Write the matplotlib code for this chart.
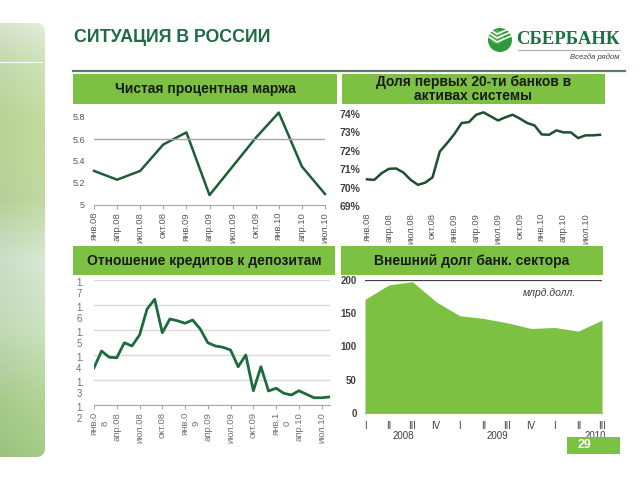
import matplotlib
matplotlib.use("Agg")
import matplotlib.pyplot as plt
import numpy as np
from matplotlib.patches import FancyBboxPatch, Rectangle, Circle
from matplotlib.transforms import ScaledTranslation, blended_transform_factory
from matplotlib.colors import to_rgb

plt.rcParams["font.family"] = ["Liberation Sans", "DejaVu Sans"]

W, H = 640, 480
GREEN = "#7cc142"
DARK_LINE = "#1d5e38"
GREY = "#595959"

# --- data ---------------------------------------------------------------
margin_labels = ["янв.08", "апр.08", "июл.08", "окт.08", "янв.09", "апр.09",
                 "июл.09", "окт.09", "янв.10", "апр.10", "июл.10"]
margin_values = [5.31, 5.23, 5.31, 5.55, 5.66, 5.09, 5.35, 5.61, 5.84, 5.35, 5.10]
margin_ticks = [5, 5.2, 5.4, 5.6, 5.8]
margin_tick_labels = ["5", "5.2", "5.4", "5.6", "5.8"]

top20_labels = ["янв.08", "апр.08", "июл.08", "окт.08", "янв.09", "апр.09",
                "июл.09", "окт.09", "янв.10", "апр.10", "июл.10"]
top20_values = [70.45, 70.42, 70.78, 71.02, 71.04, 70.82, 70.42, 70.15, 70.27,
                70.56, 71.96, 72.42, 72.91, 73.51, 73.56, 73.96, 74.09, 73.87,
                73.65, 73.82, 73.96, 73.75, 73.51, 73.38, 72.89, 72.87, 73.11,
                73.00, 73.00, 72.69, 72.84, 72.84, 72.87]
top20_ticks = [69, 70, 71, 72, 73, 74]

ltd_labels = ["янв.0\n8", "апр.08", "июл.08", "окт.08", "янв.0\n9", "апр.09",
              "июл.09", "окт.09", "янв.1\n0", "апр.10", "июл.10"]
ltd_values = [1.349, 1.416, 1.391, 1.389, 1.449, 1.436, 1.480, 1.584, 1.623,
              1.489, 1.544, 1.537, 1.527, 1.540, 1.504, 1.449, 1.436, 1.431,
              1.420, 1.353, 1.400, 1.257, 1.353, 1.256, 1.267, 1.247, 1.240,
              1.257, 1.243, 1.229, 1.229, 1.232]
ltd_ticks = [1.2, 1.3, 1.4, 1.5, 1.6, 1.7]
ltd_tick_labels = ["1.\n2", "1.\n3", "1.\n4", "1.\n5", "1.\n6", "1.\n7"]

debt_quarters = ["I", "II", "III", "IV", "I", "II", "III", "IV", "I", "II", "III"]
debt_years = ["2008", "2009", "2010"]
debt_year_pos = [1.6, 5.6, 9.7]
debt_values = [170.9, 192.5, 197.5, 167.3, 146.2, 142.2, 135.7, 127.1, 128.6, 123.1, 139.7]
debt_ticks = [0, 50, 100, 150, 200]


def rect(x0, y0, x1, y1):
    return [x0 / W, 1 - y1 / H, (x1 - x0) / W, (y1 - y0) / H]


fig = plt.figure(figsize=(6.4, 4.8), dpi=100)
fig.patch.set_facecolor("white")

# --- background layer ---------------------------------------------------
bg = fig.add_axes([0, 0, 1, 1], zorder=-1)
bg.set_xlim(0, W)
bg.set_ylim(H, 0)
bg.axis("off")

# decorative strip on the left
stops_y = [23, 60, 120, 200, 260, 330, 400, 457]
stops_c = ["#dfe9d3", "#cadfb4", "#bfd899", "#bcd69e", "#d3e4cf", "#c7debb",
           "#aed091", "#9fc883"]
ys = np.arange(23, 458)
cols = np.array([to_rgb(c) for c in stops_c])
grad = np.stack([np.interp(ys, stops_y, cols[:, k]) for k in range(3)], axis=-1)
xs = np.linspace(0, 1, 46)
img = grad[:, None, :] * (0.97 + 0.05 * xs[None, :, None])
img = np.clip(img, 0, 1)
strip = FancyBboxPatch((-12, 23), 57, 434, boxstyle="round,pad=0,rounding_size=9",
                       fc="none", ec="none")
bg.add_patch(strip)
im = bg.imshow(img, extent=(0, 45, 457, 23), aspect="auto", zorder=1)
im.set_clip_path(strip)
bg.plot([0, 42], [62, 62], color="white", lw=0.8, alpha=0.9, zorder=2)

# title and logo
bg.text(74, 37, "СИТУАЦИЯ В РОССИИ", fontsize=12.8, fontweight="bold",
        color="#1e6b45", va="center", ha="left")
bg.plot([73, 625], [71, 71], color="#5d7d6c", lw=1.6)

bg.add_patch(Circle((500, 40), 12, fc="#2f9a3c", ec="none", zorder=3))
bg.add_patch(Circle((497, 37), 7, fc="#5cbc4a", ec="none", zorder=3, alpha=0.7))
for dy in (0, 4, 8):
    bg.plot([489, 497, 511], [29 + dy, 34 + dy, 28 + dy], color="white",
            lw=1.2, zorder=4, solid_capstyle="round")
bg.text(516, 40, "СБЕРБАНК", fontsize=13.5, fontweight="bold",
        family="Liberation Serif", color="#1a7340", va="center", ha="left")
bg.plot([518, 620], [50, 50], color="#9fb5a6", lw=0.8)
bg.text(620, 57, "Всегда рядом", fontsize=5.5, style="italic", color="#404040",
        va="center", ha="right")

# header boxes
headers = [
    ((73, 74, 337, 104), "Чистая процентная маржа"),
    ((342, 74, 605, 104), "Доля первых 20-ти банков в\nактивах системы"),
    ((73, 246, 335, 275), "Отношение кредитов к депозитам"),
    ((341, 246, 603, 275), "Внешний долг банк. сектора"),
]
for (x0, y0, x1, y1), label in headers:
    bg.add_patch(Rectangle((x0, y0), x1 - x0, y1 - y0, fc=GREEN, ec="none"))
    bg.text((x0 + x1) / 2, (y0 + y1) / 2, label, fontsize=10, fontweight="bold",
            color="#1a1a1a", ha="center", va="center", linespacing=1.0)

bg.text(523, 293, "млрд.долл.", fontsize=7.5, style="italic", color="#404040",
        va="center", ha="left")

# --- chart 1: net interest margin ---------------------------------------
ax1 = fig.add_axes(rect(94, 117, 325, 205))
ax1.set_facecolor("none")
ax1.plot(range(len(margin_values)), margin_values, color=DARK_LINE, lw=1.8,
         clip_on=False)
ax1.axhline(5.6, color="#a6a6a6", lw=1)
ax1.set_xlim(0, len(margin_values) - 1)
ax1.set_ylim(5, 5.8)
ax1.set_xticks(range(len(margin_labels)), margin_labels, rotation=90)
ax1.set_yticks(margin_ticks, margin_tick_labels)
ax1.tick_params(axis="x", labelsize=6.8, colors=GREY, length=3, pad=2, color="#a6a6a6")
ax1.tick_params(axis="y", labelsize=6.5, colors=GREY, length=0, pad=6.5)
for s in ("top", "right", "left"):
    ax1.spines[s].set_visible(False)
ax1.spines["bottom"].set_color("#a6a6a6")

# --- chart 2: share of top-20 banks -------------------------------------
ax2 = fig.add_axes(rect(367, 114, 600, 206))
ax2.set_facecolor("none")
ax2.plot(range(len(top20_values)), top20_values, color="#1f4f30", lw=1.8,
         clip_on=False)
ax2.set_xlim(0, len(top20_values) - 1)
ax2.set_ylim(69, 74)
ax2.set_xticks(range(0, 3 * len(top20_labels), 3), top20_labels, rotation=90)
ax2.set_yticks(top20_ticks, [f"{v}%" for v in top20_ticks])
ax2.tick_params(axis="x", labelsize=6.8, colors=GREY, length=0, pad=5)
ax2.tick_params(axis="y", labelsize=7.5, colors="#404040", length=0, pad=5)
for lbl in ax2.get_yticklabels():
    lbl.set_fontweight("bold")
for s in ax2.spines.values():
    s.set_visible(False)

# --- chart 3: loans to deposits -----------------------------------------
ax3 = fig.add_axes(rect(94, 280, 330, 405))
ax3.set_facecolor("none")
ax3.plot(range(len(ltd_values)), ltd_values, color="#1b6b3e", lw=2)
ax3.set_xlim(0, len(ltd_values) - 0.9)
ax3.set_ylim(1.2, 1.7)
ax3.set_yticks(ltd_ticks, ltd_tick_labels)
ax3.set_xticks(range(0, 3 * len(ltd_labels), 3), ltd_labels, rotation=90)
ax3.grid(axis="y", color="#d9d9d9", lw=1)
ax3.set_axisbelow(True)
ax3.tick_params(axis="y", labelsize=7, colors="#707070", length=0, pad=7)
ax3.tick_params(axis="x", labelsize=6.8, colors="#707070", length=3, pad=2,
                color="#a6a6a6")
down = ScaledTranslation(0, -5 / 72, fig.dpi_scale_trans)
for lbl in ax3.get_yticklabels():
    lbl.set_transform(lbl.get_transform() + down)
    lbl.set_linespacing(1.1)
    lbl.set_multialignment("left")
shift = ScaledTranslation(4 / 72, 0, fig.dpi_scale_trans)
for lbl in ax3.get_xticklabels():
    if "\n" in lbl.get_text():
        lbl.set_transform(lbl.get_transform() + shift)
for s in ("top", "right", "left"):
    ax3.spines[s].set_visible(False)
ax3.spines["bottom"].set_color("#a6a6a6")

# --- chart 4: external debt of banking sector ---------------------------
ax4 = fig.add_axes(rect(365, 280, 602, 413))
ax4.set_facecolor("none")
qx = np.arange(len(debt_values))
ax4.fill_between(qx, 0, debt_values, color=GREEN, lw=0)
ax4.axhline(debt_ticks[-1], color="#404040", lw=0.9)
ax4.set_xlim(0, len(debt_values) - 1)
ax4.set_ylim(0, debt_ticks[-1])
ax4.set_yticks(debt_ticks, [str(v) for v in debt_ticks])
ax4.set_xticks(qx, debt_quarters)
ax4.set_xticks([0, 4, 8, 10], minor=True)
ax4.tick_params(axis="x", which="major", labelsize=7, colors="#404040", length=0, pad=6)
ax4.tick_params(axis="x", which="minor", length=4, color="#a6a6a6")
ax4.tick_params(axis="y", labelsize=7, colors="#404040", length=0, pad=6)
for lbl in ax4.get_yticklabels():
    lbl.set_fontweight("bold")
tr = blended_transform_factory(ax4.transData, ax4.transAxes)
for yr, pos in zip(debt_years, debt_year_pos):
    ax4.text(pos, -0.17, yr, transform=tr, fontsize=7, color="#404040",
             ha="center", va="center")
for s in ("top", "right", "left"):
    ax4.spines[s].set_visible(False)
ax4.spines["bottom"].set_color("#a6a6a6")

# --- overlay: page number -----------------------------------------------
top = fig.add_axes([0, 0, 1, 1], zorder=10)
top.set_xlim(0, W)
top.set_ylim(H, 0)
top.axis("off")
top.patch.set_alpha(0)
top.add_patch(Rectangle((567, 437), 53, 17, fc=GREEN, ec="none"))
top.text(585, 445.5, "29", fontsize=9, fontweight="bold", color="white",
         ha="center", va="center")

fig.savefig("out.png", dpi=100)
